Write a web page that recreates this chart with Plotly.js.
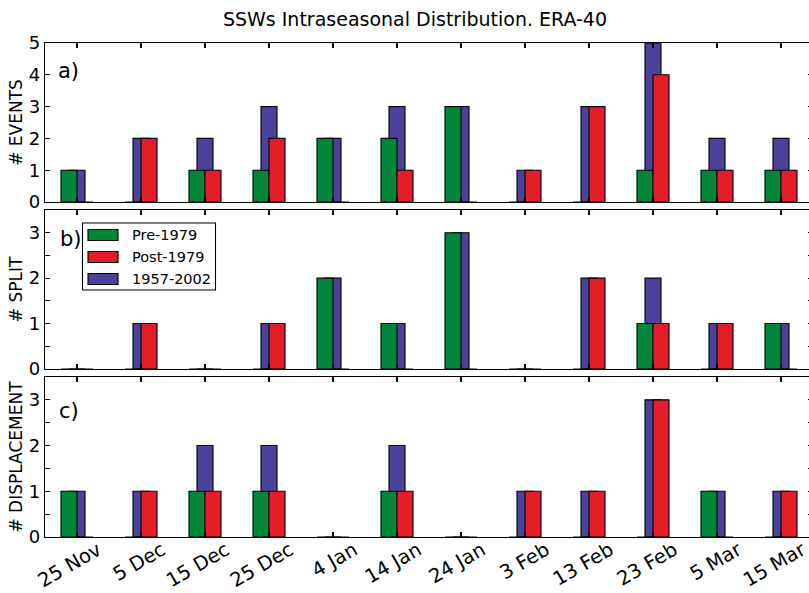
<!DOCTYPE html>
<html>
<head>
<meta charset="utf-8">
<script src="https://cdn.plot.ly/plotly-3.0.1.min.js"></script>
<style>
html, body { margin: 0; padding: 0; overflow: hidden; background: #fff; }
#chart { width: 823px; height: 593px; }
</style>
</head>
<body>
<div id="chart"></div>
<script>
// ---- data ----
const categories = ["25 Nov", "5 Dec", "15 Dec", "25 Dec", "4 Jan", "14 Jan", "24 Jan", "3 Feb", "13 Feb", "23 Feb", "5 Mar", "15 Mar"];

const eventsPre  = [1, 0, 1, 1, 2, 2, 3, 0, 0, 1, 1, 1];
const eventsPost = [0, 2, 1, 2, 0, 1, 0, 1, 3, 4, 1, 1];
const eventsAll  = [1, 2, 2, 3, 2, 3, 3, 1, 3, 5, 2, 2];

const splitPre  = [0, 0, 0, 0, 2, 1, 3, 0, 0, 1, 0, 1];
const splitPost = [0, 1, 0, 1, 0, 0, 0, 0, 2, 1, 1, 0];
const splitAll  = [0, 1, 0, 1, 2, 1, 3, 0, 2, 2, 1, 1];

const dispPre  = [1, 0, 1, 1, 0, 1, 0, 0, 0, 0, 1, 0];
const dispPost = [0, 1, 1, 1, 0, 1, 0, 1, 1, 3, 0, 1];
const dispAll  = [1, 1, 2, 2, 0, 2, 0, 1, 1, 3, 1, 1];

const seriesNames = ["Pre-1979", "Post-1979", "1957-2002"];
const panelLabels = ["a)", "b)", "c)"];
const yTitles = ["# EVENTS", "# SPLIT", "# DISPLACEMENT"];

// ---- styling ----
const GREEN = "#00873a", RED = "#e31e2a", BLUE = "#4a4399";
const FONT = "DejaVu Sans, Liberation Sans, sans-serif";
const W = 823, H = 593;
const ML = 45, MR = 10, MT = 43, MB = 56;
const PW = W - ML - MR, PH = H - MT - MB;
const px2x = p => (p - ML) / PW;
const px2y = p => (H - MB - p) / PH;

const xIdx = categories.map((_, i) => i);
const panels = [
  {pre: eventsPre, post: eventsPost, all: eventsAll},
  {pre: splitPre, post: splitPost, all: splitAll},
  {pre: dispPre, post: dispPost, all: dispAll}
];

const traces = [];
panels.forEach((p, k) => {
  const xa = k === 0 ? "x" : "x" + (k + 1);
  const ya = k === 0 ? "y" : "y" + (k + 1);
  const line = {color: "#000", width: 1.1};
  traces.push({type: "bar", x: xIdx, y: p.all, xaxis: xa, yaxis: ya, width: 0.25, offset: -0.125,
    marker: {color: BLUE, line: line}, name: seriesNames[2], showlegend: false, hoverinfo: "skip"});
  traces.push({type: "bar", x: xIdx, y: p.pre, xaxis: xa, yaxis: ya, width: 0.25, offset: -0.25,
    marker: {color: GREEN, line: line}, name: seriesNames[0], showlegend: false, hoverinfo: "skip"});
  traces.push({type: "bar", x: xIdx, y: p.post, xaxis: xa, yaxis: ya, width: 0.25, offset: 0,
    marker: {color: RED, line: line}, name: seriesNames[1], showlegend: false, hoverinfo: "skip"});
});

const domains = [
  [px2y(202), px2y(43)],
  [px2y(369), px2y(210)],
  [px2y(537), px2y(377)]
];

function xaxisDef(k) {
  return {
    domain: [0, 1], range: [-0.5, 11.5], anchor: k === 0 ? "y" : "y" + (k + 1),
    tickmode: "array", tickvals: xIdx, ticktext: categories,
    showticklabels: k === 2, tickangle: -30,
    ticklabelshift: 21, ticklabelstandoff: -7,
    tickfont: {family: FONT, size: 19.5, color: "#000"},
    ticks: "inside", ticklen: 5, tickwidth: 1.2, tickcolor: "#000",
    showline: true, linecolor: "#000", linewidth: 1.3, mirror: "ticks",
    showgrid: false, zeroline: false, fixedrange: true,
    matches: k === 0 ? undefined : "x"
  };
}
function yaxisDef(k) {
  const d = {
    domain: domains[k], range: k === 0 ? [0, 5] : [0, 3.5], anchor: k === 0 ? "x" : "x" + (k + 1),
    tickmode: "linear", tick0: 0, dtick: 1,
    tickfont: {family: FONT, size: 18, color: "#000"},
    ticks: "inside", ticklen: 5, tickwidth: 1.2, tickcolor: "#000",
    showline: true, linecolor: "#000", linewidth: 1.3, mirror: "ticks",
    showgrid: false, zeroline: false, fixedrange: true,
    title: {text: yTitles[k], font: {family: FONT, size: 17, color: "#000"}, standoff: 1}
  };
  if (k > 0) d.minor = {dtick: 0.5, tick0: 0, ticks: "inside", ticklen: 5, tickwidth: 1.2, tickcolor: "#000", showgrid: false};
  return d;
}

const layout = {
  width: W, height: H,
  margin: {l: ML, r: MR, t: MT, b: MB, pad: 0},
  paper_bgcolor: "#fff", plot_bgcolor: "#fff",
  barmode: "overlay", showlegend: false,
  font: {family: FONT, color: "#000"},
  title: {text: "SSWs Intraseasonal Distribution. ERA-40", font: {family: FONT, size: 19, color: "#000"},
          x: 415 / W, xref: "container", xanchor: "center", y: 1 - 19 / H, yref: "container", yanchor: "middle"},
  xaxis: xaxisDef(0), xaxis2: xaxisDef(1), xaxis3: xaxisDef(2),
  yaxis: yaxisDef(0), yaxis2: yaxisDef(1), yaxis3: yaxisDef(2),
  annotations: [], shapes: []
};

// panel labels
const labelPos = [[56, 71], [58, 239], [57, 411]];
panelLabels.forEach((t, k) => {
  layout.annotations.push({text: t, xref: "paper", yref: "paper", x: px2x(labelPos[k][0]), y: px2y(labelPos[k][1]),
    xanchor: "left", yanchor: "middle", showarrow: false, font: {family: FONT, size: 21, color: "#000"}});
});

// legend (drawn manually in panel b)
layout.shapes.push({type: "rect", xref: "paper", yref: "paper", x0: px2x(82.5), x1: px2x(215.5), y0: px2y(290), y1: px2y(223),
  line: {color: "#000", width: 1.1}, fillcolor: "#fff", layer: "above"});
const legColors = [GREEN, RED, BLUE];
const legY = [235, 257, 279];
seriesNames.forEach((n, i) => {
  layout.shapes.push({type: "rect", xref: "paper", yref: "paper", x0: px2x(88), x1: px2x(118),
    y0: px2y(legY[i] + 5.5), y1: px2y(legY[i] - 5.5), line: {color: "#000", width: 1.1}, fillcolor: legColors[i], layer: "above"});
  layout.annotations.push({text: n, xref: "paper", yref: "paper", x: px2x(130), y: px2y(legY[i]),
    xanchor: "left", yanchor: "middle", showarrow: false, font: {family: FONT, size: 14.5, color: "#000"}});
});

Plotly.newPlot("chart", traces, layout, {staticPlot: true, displayModeBar: false});
</script>
</body>
</html>
